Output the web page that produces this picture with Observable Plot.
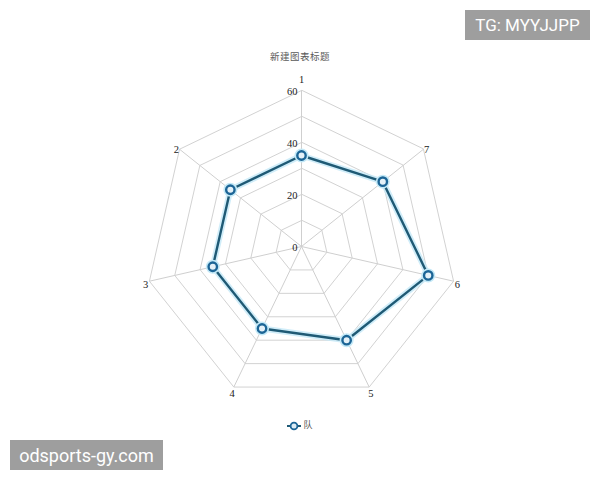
<!DOCTYPE html>
<html>
<head>
<meta charset="utf-8">
<script src="https://cdn.jsdelivr.net/npm/d3@7"></script>
<script src="https://cdn.jsdelivr.net/npm/@observablehq/plot@0.6"></script>
<style>
  html, body { margin: 0; padding: 0; background: #fff; }
  #wrap { position: relative; width: 600px; height: 480px; overflow: hidden; background: #fff; }
  #chart { position: absolute; left: 0; top: 0; }
  #title { position: absolute; left: 0; width: 600px; top: 49px; text-align: center;
    font: 9.5px "Noto Sans CJK SC", serif; color: #5a5a5a; letter-spacing: 0.5px; }
  #legend { position: absolute; left: 0; width: 600px; top: 418px; text-align: center;
    font: 9px "Noto Sans CJK SC", serif; color: #555; }
  #legend svg { vertical-align: middle; margin-right: 2px; }
  .wm { position: absolute; background: #9e9e9e; color: #fff; font: 17px Roboto, "Open Sans", sans-serif;
    display: flex; align-items: center; justify-content: center; }
</style>
</head>
<body>
<div id="wrap">
  <div id="chart"></div>
  <div id="title"></div>
  <div id="legend"></div>
  <div class="wm" id="wm1" style="left:465px;top:10px;width:125px;height:30px;"></div>
  <div class="wm" id="wm2" style="left:10px;top:440px;width:153px;height:30px;font-size:18px;"></div>
</div>
<script>
// ---- data ----
const axisLabels = ["1", "2", "3", "4", "5", "6", "7"];
const seriesName = "队";
const seriesValues = [35, 35, 35, 35, 40, 50, 40];
const gridLevels = [10, 20, 30, 40, 50, 60];
const tickLabels = [0, 20, 40, 60];
const maxValue = 60;
const titleText = "新建图表标题";
const watermarkTop = "TG: MYYJJPP";
const watermarkBottom = "odsports-gy.com";

// ---- polar helpers (axis 1 at top, counter-clockwise) ----
const n = axisLabels.length;
const angleOf = i => (i / n) * 2 * Math.PI;
const px = (i, r) => -r * Math.sin(angleOf(i));
const py = (i, r) => r * Math.cos(angleOf(i));

const points = seriesValues.map((v, i) => ({axis: axisLabels[i], x: px(i, v), y: py(i, v)}));
const rings = gridLevels.flatMap(r => axisLabels.map((a, i) => ({r, x: px(i, r), y: py(i, r)})));
const spokes = axisLabels.map((a, i) => ({x1: 0, y1: 0, x2: px(i, maxValue), y2: py(i, maxValue)}));
const topLabel = [{label: axisLabels[0], x: px(0, maxValue), y: py(0, maxValue)}];
const otherLabels = axisLabels.slice(1).map((a, k) => ({label: a, x: px(k + 1, maxValue * 1.025), y: py(k + 1, maxValue * 1.025)}));
const ticks = tickLabels.map(t => ({t, x: 0, y: t}));

const cx = 301, cy = 246, R = 156;
const chart = Plot.plot({
  width: 600,
  height: 480,
  margin: 0,
  x: {domain: [-maxValue, maxValue], range: [cx - R, cx + R], axis: null},
  y: {domain: [-maxValue, maxValue], range: [cy + R, cy - R], axis: null},
  style: {background: "transparent"},
  marks: [
    Plot.line(rings, {x: "x", y: "y", z: "r", curve: "linear-closed", stroke: "#d2d2d2", strokeWidth: 1}),
    Plot.link(spokes, {x1: "x1", y1: "y1", x2: "x2", y2: "y2", stroke: "#cfcfcf", strokeWidth: 1}),
    Plot.text(ticks, {x: "x", y: "y", text: d => String(d.t), textAnchor: "end", dx: -4, dy: 1,
      fontSize: 10.5, fontFamily: "Liberation Serif, serif", fill: "#222"}),
    Plot.text(topLabel, {x: "x", y: "y", text: "label", dy: -11, fontSize: 10.5,
      fontFamily: "Liberation Serif, serif", fill: "#222"}),
    Plot.text(otherLabels, {x: "x", y: "y", text: "label", dy: 3, fontSize: 10.5,
      fontFamily: "Liberation Serif, serif", fill: "#222"}),
    Plot.line(points, {x: "x", y: "y", curve: "linear-closed", stroke: "#c4e9f7", strokeWidth: 6, strokeOpacity: 0.8}),
    Plot.line(points, {x: "x", y: "y", curve: "linear-closed", stroke: "#1f5a75", strokeWidth: 2.4}),
    Plot.dot(points, {x: "x", y: "y", r: 4.5, stroke: "#c4e9f7", strokeWidth: 5, fill: "none"}),
    Plot.dot(points, {x: "x", y: "y", r: 4.2, stroke: "#1c6596", strokeWidth: 2.4, fill: "#e4f1f8"})
  ]
});
document.getElementById("chart").appendChild(chart);
document.getElementById("title").textContent = titleText;
document.getElementById("wm1").textContent = watermarkTop;
document.getElementById("wm2").textContent = watermarkBottom;
document.getElementById("legend").innerHTML =
  '<svg width="14" height="10"><line x1="0" y1="5" x2="14" y2="5" stroke="#1f5a75" stroke-width="2"/>' +
  '<circle cx="7" cy="5" r="3.4" stroke="#1c6596" stroke-width="1.8" fill="#dcecf5"/></svg>' +
  '<span></span>';
document.querySelector("#legend span").textContent = seriesName;
</script>
</body>
</html>
